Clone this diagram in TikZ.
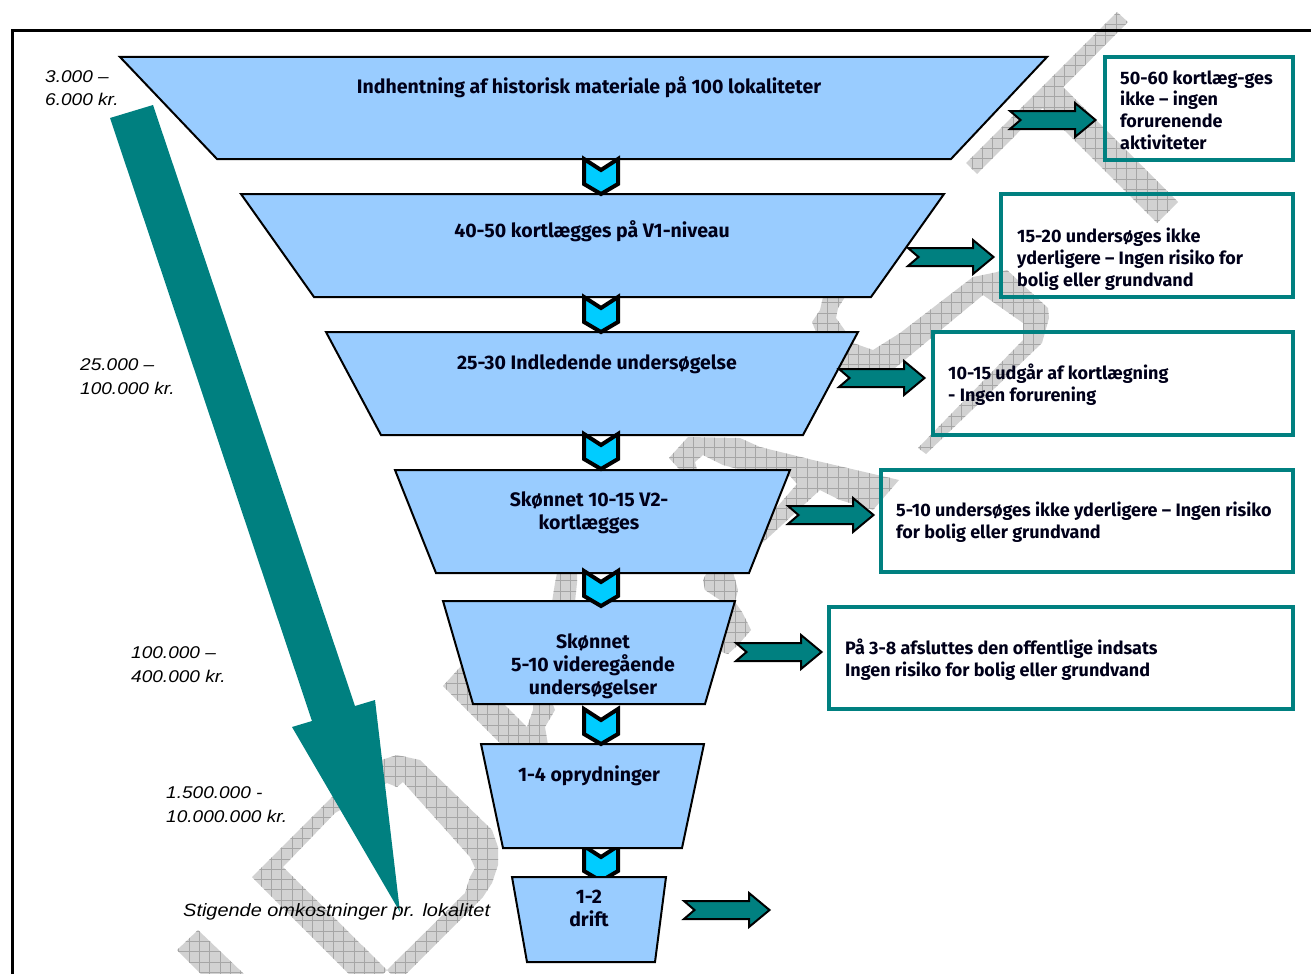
\documentclass[tikz,border=0pt]{standalone}
\usepackage{fontspec}
\setmainfont{Fira Sans}
\newfontfamily\itfont[FakeStretch=1.12]{Liberation Sans}
\definecolor{tealc}{HTML}{008080}
\definecolor{funnel}{HTML}{99CCFF}
\definecolor{chev}{HTML}{00CCFF}
\definecolor{wm}{HTML}{D2D2D2}
\definecolor{wmline}{HTML}{A6A6A6}
\tikzset{
  funnelbox/.style={draw=black,fill=funnel,line width=2pt},
  chevron/.style={draw=black,fill=chev,line width=4pt,miter limit=4},
  sidearrow/.style={draw=black,fill=tealc,line width=2pt},
  tealbox/.style={draw=tealc,line width=3.5pt,anchor=north west,inner sep=0pt,outer sep=0pt},
  ftext/.style={font=\fontsize{19.5}{23}\selectfont\bfseries,align=center,inner sep=0pt,text=black!90!blue},
  btext/.style={font=\fontsize{18}{21.7}\selectfont\bfseries,align=left,anchor=west,inner sep=0pt,text=black!90!blue},
  itext/.style={font=\fontsize{17}{23.5}\selectfont\itfont\itshape,align=left,anchor=west,inner sep=0pt}
}
\newcommand{\chevat}[1]{\draw[chevron,shift={(601,#1)}] (-17,1) -- (0,12) -- (17,1) -- (17,26) -- (0,36) -- (-17,26) -- cycle;}
\newcommand{\arrowat}[2]{\draw[sidearrow,shift={(#1,#2)}] (1,-9) -- (66,-9) -- (66,-17) -- (86.5,0) -- (66,17) -- (66,9) -- (1,9) -- (11.5,0) -- cycle;}
\begin{document}
\begin{tikzpicture}[x=1pt,y=-1pt]
\useasboundingbox (0,0) rectangle (1311,974);
\begin{scope}
\clip (0,0) rectangle (1311,974);
% watermark
\begin{scope}
\clip
 (1117,12) -- (1128,22) -- (977,174) -- (966,163) -- cycle
 (1063,87) -- (1178,202) -- (1157,223) -- (1042,108) -- cycle
 (918,448) -- (1023,340) -- (1023,323) -- (983,295) -- (895,368) -- (835,368) -- (840,340) -- (853,343) -- (873,350) -- (900,333) -- (973,277) -- (1007,270) -- (1048,308) -- (1049,318) -- (1042,343) -- (926,454) -- cycle
 (823,297) -- (845,297) -- (838,308) -- (836,318) -- (846,332) -- (816,332) -- (812,322) -- (820,310) -- cycle
 (688,437) -- (740,438) -- (760,447) -- (813,460) -- (899,480) -- (873,510) -- (840,500) -- (820,490) -- (758,547) -- (750,540) -- (777,507) -- (797,484) -- (790,476) -- (780,480) -- (738,469) -- (723,465) -- (703,455) -- (695,462) -- (697,470) -- (680,470) -- (669,458) -- cycle
 (707,572) -- (733,572) -- (738,590) -- (735,602) -- (742,612) -- (751,630) -- (738,645) -- (728,654) -- (715,650) -- (720,600) -- (705,590) -- (703,580) -- cycle
 (557,573) -- (577,573) -- (577,583) -- (575,602) -- (552,602) -- (555,583) -- cycle
 (443,686) -- (462,665) -- (480,700) -- (505,705) -- (527,727) -- (533,710) -- (533,702) -- (552,702) -- (555,710) -- (545,727) -- (548,745) -- (502,745) -- cycle
 (252,877) -- (332,797) -- (375,762) -- (397,755) -- (420,760) -- (492,830) -- (498,847) -- (498,865) -- (492,883) -- (483,897) -- (406,974) -- (391,974) -- (387,970) -- (465,893) -- (470,877) -- (475,868) -- (470,857) -- (403,782) -- (397,787) -- (387,783) -- (335,813) -- (283,867) -- (387,970) -- (383,974) -- (349,974) -- cycle
 (198,930) -- (177,950) -- (201,974) -- (244,974) -- cycle;
\fill[wm] (0,0) rectangle (1311,974);
\foreach \i in {0,...,127} {\draw[wmline,line width=0.7pt] ({3.7+10.3*\i},0) -- ({3.7+10.3*\i},974);}
\foreach \i in {0,...,95} {\draw[wmline,line width=0.7pt] (0,{4+10.3*\i}) -- (1311,{4+10.3*\i});}
\end{scope}
% frame
\coordinate (frameA) at (12,974);
\coordinate (frameB) at (12,31);
\coordinate (frameC) at (1311,31);
\draw[black,line width=3pt] (frameA) -- (frameB) -- (frameC);
% last chevron lies behind the last funnel step
\chevat{845}
% funnel
\draw[funnelbox] (120,57) -- (1047,57) -- (951,159) -- (217,159) -- cycle;
\draw[funnelbox] (241,194) -- (944,194) -- (871,297) -- (314,297) -- cycle;
\draw[funnelbox] (326,332) -- (858,332) -- (803,435) -- (381,435) -- cycle;
\draw[funnelbox] (395,470) -- (790,470) -- (749,573) -- (436,573) -- cycle;
\draw[funnelbox] (443,601) -- (735,601) -- (705,704) -- (473,704) -- cycle;
\draw[funnelbox] (481,744) -- (704,744) -- (682,848) -- (503,848) -- cycle;
\draw[funnelbox] (512,877) -- (666,877) -- (655,962) -- (527,962) -- cycle;
\chevat{158}
\chevat{296}
\chevat{433}
\chevat{570}
\chevat{708}
% side arrows
\arrowat{1009}{120}
\arrowat{907}{257}
\arrowat{838}{378}
\arrowat{787}{515}
\arrowat{735}{652}
\arrowat{683}{910}
% boxes
\node[tealbox,minimum width=188pt,minimum height=103pt] (b1) at (1105,57) {};
\node[tealbox,minimum width=292pt,minimum height=103pt] (b2) at (1001,194) {};
\node[tealbox,minimum width=360pt,minimum height=103pt] (b3) at (933,332) {};
\node[tealbox,minimum width=412pt,minimum height=102pt] (b4) at (881,470) {};
\node[tealbox,minimum width=464pt,minimum height=102pt] (b5) at (829,607) {};
% large arrow
\fill[tealc] (110,118) -- (153,105) -- (355,706) -- (375,700) -- (400,912) -- (292,727) -- (312,721) -- cycle;
% funnel texts
\node[ftext] (t1) at (589,87.5) {Indhentning af historisk materiale på 100 lokaliteter};
\node[ftext] (t2) at (592,231.5) {40-50 kortlægges på V1-niveau};
\node[ftext] (t3) at (597,364) {25-30 Indledende undersøgelse};
\node[ftext] (t4) at (589,513) {Skønnet 10-15 V2-\\kortlægges};
\node[ftext] (t5) at (593,666.5) {Skønnet\\5-10 videregående\\undersøgelser};
\node[ftext] (t6) at (589,776) {1-4 oprydninger};
\node[ftext] (t7) at (589,908) {1-2\\drift};
% box texts
\node[btext] (s1) at (1120,110) {50-60 kortlæg-ges\\ikke – ingen\\forurenende\\aktiviteter};
\node[btext] (s2) at (1017,259) {15-20 undersøges ikke\\yderligere – Ingen risiko for\\bolig eller grundvand};
\node[btext] (s3) at (948,385) {10-15 udgår af kortlægning\\- Ingen forurening};
\node[btext] (s4) at (896,522.5) {5-10 undersøges ikke yderligere – Ingen risiko\\for bolig eller grundvand};
\node[btext] (s5) at (845,660) {På 3-8 afsluttes den offentlige indsats\\Ingen risiko for bolig eller grundvand};
% cost texts
\node[itext] (c1) at (45,88) {3.000 –\\6.000 kr.};
\node[itext] (c2) at (80,376.5) {25.000 –\\100.000 kr.};
\node[itext] (c3) at (131,664.5) {100.000 –\\400.000 kr.};
\node[itext] (c4) at (166,804.5) {1.500.000 -\\10.000.000 kr.};
\node[itext,font=\fontsize{17.8}{23.5}\selectfont\itfont\itshape] (c5) at (183,912) {Stigende omkostninger pr. lokalitet};
\end{scope}
\end{tikzpicture}
\end{document}
